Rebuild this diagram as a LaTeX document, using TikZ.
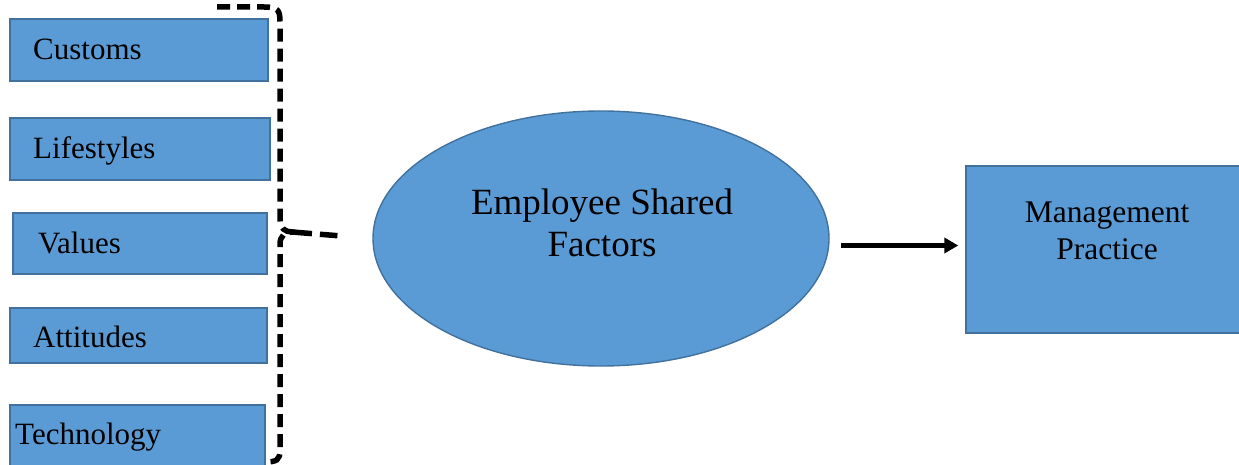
\documentclass[tikz,border=0pt]{standalone}
\usepackage{fontspec}
\setmainfont{Liberation Serif}
\usetikzlibrary{shapes.geometric,arrows.meta}
\definecolor{boxfill}{RGB}{91,155,213}
\definecolor{boxline}{RGB}{65,113,156}
\begin{document}
\begin{tikzpicture}[x=1pt,y=-1pt,
  factorbox/.style={draw=boxline,fill=boxfill,line width=1.4pt,rectangle,inner sep=0pt},
  boxlabel/.style={anchor=base west,inner sep=0pt,font=\fontsize{31}{36}\selectfont},
  brace/.style={line width=5.5pt,dash pattern=on 13pt off 7pt,line cap=butt},
]
\useasboundingbox (0,0) rectangle (1239,465);

% factor boxes on the left
\node[factorbox,minimum width=258pt,minimum height=62pt] (customs) at (139,50) {};
\node[factorbox,minimum width=260pt,minimum height=62pt] (lifestyles) at (140,149) {};
\node[factorbox,minimum width=254pt,minimum height=61pt] (values) at (140,243.5) {};
\node[factorbox,minimum width=257pt,minimum height=55pt] (attitudes) at (138.5,335.5) {};
\node[factorbox,minimum width=255pt,minimum height=65pt] (technology) at (137.5,437.5) {};

\node[boxlabel] (tcustoms) at (33,60) {Customs};
\node[boxlabel] (tlifestyles) at (33,159) {Lifestyles};
\node[boxlabel] (tvalues) at (38,253) {Values};
\node[boxlabel] (tattitudes) at (33,347) {Attitudes};
\node[boxlabel] (ttechnology) at (15,444) {Technology};

% central ellipse
\node[ellipse,draw=boxline,fill=boxfill,line width=1.4pt,minimum width=456pt,minimum height=255pt] (ell) at (601,238.5) {};
\node[align=center,font=\fontsize{37}{42}\selectfont,inner sep=0pt] (elltext) at (602,223) {Employee Shared\\Factors};

% outcome box
\node[factorbox,minimum width=290pt,minimum height=167pt] (mp) at (1111,249.5) {};
\node[align=center,font=\fontsize{31.5}{37}\selectfont,inner sep=0pt] (mptext) at (1107,231) {Management\\Practice};

% curly brace grouping the factors
\coordinate (tip) at (292,232);
\draw[brace] (217,7) -- (264,7) .. controls (278,7) and (280,10) .. (280,22)
  -- (280,220) .. controls (280,228) and (285,232) .. (tip)
  .. controls (285,232) and (280,236) .. (280,244)
  -- (280,450) .. controls (280,460) and (277,462) .. (264,462);
\draw[brace,dash pattern=on 20pt off 8pt] (tip) -- (ell.west) [shorten >=35pt];

% arrow from the ellipse to the outcome box
\draw[line width=5.5pt,shorten <=11pt,shorten >=7pt,-{Triangle[length=14pt,width=15pt]}]
  ([yshift=-7pt]ell.east) -- ([yshift=-7pt]ell.east -| mp.west);
\end{tikzpicture}
\end{document}
